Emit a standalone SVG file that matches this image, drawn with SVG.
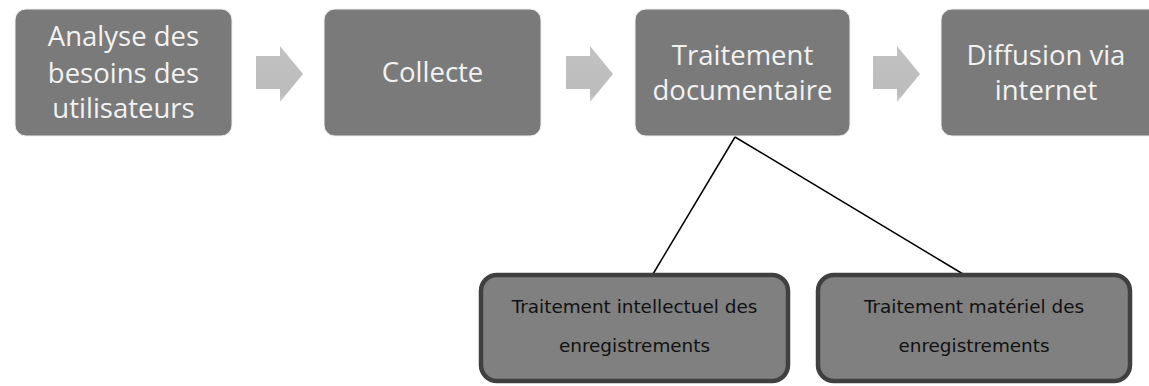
<svg xmlns="http://www.w3.org/2000/svg" width="1149" height="386" viewBox="0 0 1149 386">
<style>
.box{fill:#7a7a7a;stroke:#f0f0f0;stroke-width:1}
.t{font-family:"Open Sans","Liberation Sans",sans-serif;font-size:27.5px;fill:#f2f2f2;text-anchor:middle}
.sub{fill:#808080;stroke:#404040;stroke-width:4.5}
.s{font-family:"DejaVu Sans","Liberation Sans",sans-serif;font-size:18.4px;fill:#111;text-anchor:middle}
.arr{fill:url(#ag)}
.ln{stroke:#000;stroke-width:1.5;fill:none}
</style>
<defs>
<linearGradient id="ag" x1="0" y1="0" x2="0" y2="1">
<stop offset="0" stop-color="#c2c2c2"/>
<stop offset="0.85" stop-color="#bcbcbc"/>
<stop offset="1" stop-color="#cfcfcf"/>
</linearGradient>
</defs>
<rect width="1149" height="386" fill="#fff"/>
<g id="node-analyse">
<rect class="box" x="15" y="9" width="217" height="127" rx="11"/>
<text class="t" x="123.5" y="46">Analyse des</text>
<text class="t" x="123.5" y="83">besoins des</text>
<text class="t" x="123.5" y="118">utilisateurs</text>
</g>
<g id="node-collecte">
<rect class="box" x="324" y="9" width="217" height="127" rx="11"/>
<text class="t" x="432.5" y="82">Collecte</text>
</g>
<g id="node-traitement">
<rect class="box" x="635" y="9" width="215" height="127" rx="11"/>
<text class="t" x="742.5" y="65">Traitement</text>
<text class="t" x="742.5" y="100">documentaire</text>
</g>
<g id="node-diffusion">
<rect class="box" x="941" y="9" width="230" height="127" rx="11"/>
<text class="t" x="1046" y="65">Diffusion via</text>
<text class="t" x="1046" y="100">internet</text>
</g>
<g id="arrows">
<path class="arr" d="M256,56 H280 V46 L303,74 L280,102 V89 H256 Z"/>
<path class="arr" d="M566,56 H590 V46 L613,74 L590,102 V89 H566 Z"/>
<path class="arr" d="M873,56 H897 V46 L920,74 L897,102 V89 H873 Z"/>
</g>
<g id="connectors">
<line class="ln" x1="735" y1="137" x2="653" y2="274"/>
<line class="ln" x1="735" y1="137" x2="963" y2="274"/>
</g>
<g id="node-intellectuel">
<rect class="sub" x="481" y="275" width="307" height="106" rx="16"/>
<text class="s" x="634.5" y="313">Traitement intellectuel des</text>
<text class="s" x="634.5" y="352">enregistrements</text>
</g>
<g id="node-materiel">
<rect class="sub" x="818" y="275" width="312" height="106" rx="16"/>
<text class="s" x="974" y="313">Traitement matériel des</text>
<text class="s" x="974" y="352">enregistrements</text>
</g>
</svg>
